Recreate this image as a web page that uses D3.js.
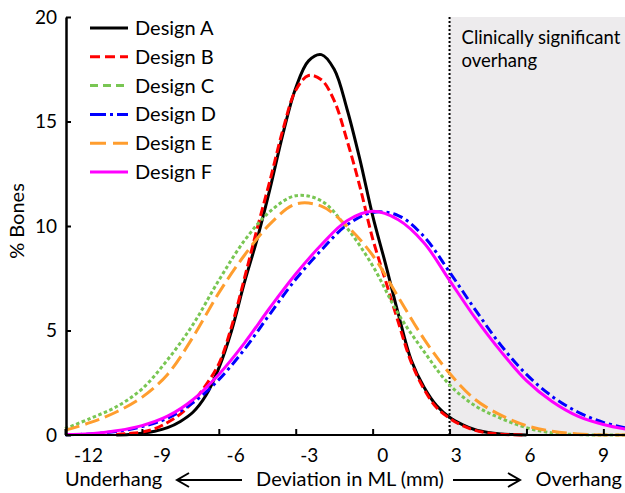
<!DOCTYPE html>
<html>
<head>
<meta charset="utf-8">
<script src="https://cdn.jsdelivr.net/npm/d3@7"></script>
<style>
  html, body { margin: 0; padding: 0; background: #fff; }
  svg { display: block; font-family: Lato, 'Open Sans', sans-serif; }
  .axis path, .axis line { stroke: #000; }
  .axis text { font-size: 19px; fill: #000; font-family: Lato, sans-serif; }
</style>
</head>
<body>
<div id="chart"></div>
<script>
// x values (mm) for the two narrow curves, read every half mm
const xHalf = [-10, -9.5, -9, -8.5, -8, -7.5, -7, -6.5, -6, -5.5, -5, -4.5, -4, -3.5, -3, -2.5,
  -2, -1.5, -1, -0.5, 0, 0.5, 1, 1.5, 2, 2.5, 3, 3.5, 4, 4.5, 5, 5.5, 6];
const designA = [0, 0.02, 0.08, 0.18, 0.35, 0.65, 1.1, 1.9, 3.2, 5.0, 7.3, 9.4, 11.8, 14.4, 16.6, 17.9,
  18.2, 17.5, 15.6, 13.2, 10.5, 8.2, 5.8, 3.6, 2.3, 1.4, 0.85, 0.5, 0.25, 0.12, 0.05, 0.02, 0];
const designB = [0.03, 0.07, 0.14, 0.3, 0.6, 1.0, 1.6, 2.4, 3.4, 5.2, 7.5, 9.9, 12.2, 14.6, 16.5, 17.2,
  17.0, 16.0, 14.1, 11.9, 9.4, 7.4, 5.4, 3.5, 2.2, 1.3, 0.8, 0.45, 0.22, 0.1, 0.04, 0.01, 0];

// x values (mm) for the wide curves, read every mm
const xWhole = [-12, -11, -10, -9, -8, -7, -6, -5, -4, -3, -2, -1, 0, 1, 2, 3, 4, 5, 6, 7, 8, 9, 10];
const designC = [0.3, 0.8, 1.35, 2.2, 3.6, 5.3, 7.4, 9.3, 10.7, 11.45, 11.2, 9.9, 8.1, 5.8, 4.0, 2.4,
  1.4, 0.8, 0.35, 0.1, 0.02, 0, 0];
const designD = [0.01, 0.05, 0.17, 0.4, 0.8, 1.55, 2.65, 4.1, 5.8, 7.45, 8.85, 10.05, 10.65, 10.5, 9.5, 7.8,
  6.0, 4.3, 2.9, 1.85, 1.1, 0.6, 0.3];
const designE = [0.22, 0.6, 1.1, 1.8, 2.9, 4.7, 6.8, 8.6, 10.1, 11.05, 10.95, 10.0, 8.6, 6.6, 4.6, 2.95,
  1.7, 0.95, 0.45, 0.18, 0.05, 0, 0];
const designF = [0.02, 0.06, 0.2, 0.45, 0.9, 1.7, 2.9, 4.4, 6.1, 7.7, 9.1, 10.25, 10.7, 10.3, 9.2, 7.4,
  5.6, 4.0, 2.6, 1.6, 0.9, 0.5, 0.25];

const seriesNames = ['Design A', 'Design B', 'Design C', 'Design D', 'Design E', 'Design F'];
const xTickValues = [-12, -9, -6, -3, 0, 3, 6, 9];
const yTickValues = [0, 5, 10, 15, 20];
const overhangLimit = 3;

const styles = {
  'Design A': { color: '#000000', dash: null, legendDash: null },
  'Design B': { color: '#ff0000', dash: '9,4', legendDash: '10,5' },
  'Design C': { color: '#79c653', dash: '3.5,2.5', legendDash: '8,5' },
  'Design D': { color: '#0000ff', dash: '10,4,3,4', legendDash: '16,4,3,4' },
  'Design E': { color: '#ff9d2e', dash: '15,6', legendDash: '16,7' },
  'Design F': { color: '#ff00ff', dash: null, legendDash: null }
};

const series = [
  { name: 'Design A', xs: xHalf, ys: designA },
  { name: 'Design B', xs: xHalf, ys: designB },
  { name: 'Design C', xs: xWhole, ys: designC },
  { name: 'Design D', xs: xWhole, ys: designD },
  { name: 'Design E', xs: xWhole, ys: designE },
  { name: 'Design F', xs: xWhole, ys: designF }
].map((s) => ({ name: s.name, values: s.xs.map((x, i) => ({ x, y: s.ys[i] })) }));

const width = 625;
const height = 493;

const x = d3.scaleLinear().domain([-12, 10]).range([65, 629]);
// tick labels sit on a slightly tighter spacing than the tick marks
const xLabel = d3.scaleLinear().domain([-12, 9]).range([88, 603]);
const y = d3.scaleLinear().domain([0, 20]).range([435, 17]);

const svg = d3.select('#chart').append('svg')
  .attr('width', width)
  .attr('height', height);

// shaded overhang zone
svg.append('rect')
  .attr('x', x(overhangLimit))
  .attr('y', y(20))
  .attr('width', width - x(overhangLimit))
  .attr('height', y(0) - y(20))
  .attr('fill', '#edebed');

svg.append('line')
  .attr('x1', x(overhangLimit)).attr('x2', x(overhangLimit))
  .attr('y1', y(20)).attr('y2', y(0))
  .attr('stroke', '#000')
  .attr('stroke-width', 2)
  .attr('stroke-dasharray', '2,2');

svg.append('text')
  .attr('y', 44)
  .attr('font-size', 18.5)
  .selectAll('tspan')
  .data(['Clinically significant', 'overhang'])
  .join('tspan')
  .attr('x', x(overhangLimit) + 12)
  .attr('dy', (d, i) => (i ? 23 : 0))
  .text((d) => d);

/* CURVES */
const line = d3.line()
  .x((d) => x(d.x))
  .y((d) => y(Math.max(0, d.y)))
  .curve(d3.curveCatmullRom.alpha(0.5));

svg.append('g')
  .selectAll('path')
  .data(series)
  .join('path')
  .attr('d', (d) => line(d.values))
  .attr('fill', 'none')
  .attr('stroke', (d) => styles[d.name].color)
  .attr('stroke-width', 3)
  .attr('stroke-dasharray', (d) => styles[d.name].dash);

/* AXES */
const xAxis = svg.append('g')
  .attr('class', 'axis')
  .attr('transform', `translate(0,${y(0)})`)
  .call(d3.axisBottom(x)
    .tickValues(xTickValues)
    .tickSizeInner(-6)
    .tickSizeOuter(0)
    .tickPadding(14)
    .tickFormat((d) => (d < 0 ? '-' + Math.abs(d) : d)));
xAxis.select('.domain')
  .attr('stroke-width', 2)
  .attr('d', `M${x(-12)},0H${width}`);
xAxis.selectAll('.tick line').attr('stroke-width', 2);
xAxis.selectAll('.tick text').attr('x', (d) => xLabel(d) - x(d));

const yAxis = svg.append('g')
  .attr('class', 'axis')
  .attr('transform', `translate(${x(-12) + 1},0)`)
  .call(d3.axisLeft(y)
    .tickValues(yTickValues)
    .tickSizeInner(-5)
    .tickSizeOuter(0)
    .tickPadding(9));
yAxis.select('.domain').attr('stroke-width', 2.5);
yAxis.selectAll('.tick line').attr('stroke-width', 2);

svg.append('text')
  .attr('transform', 'translate(24,221) rotate(-90)')
  .attr('text-anchor', 'middle')
  .attr('font-size', 20)
  .text('% Bones');

/* X AXIS TITLE WITH ARROWS */
const titleY = 486;
svg.append('text').attr('x', 65).attr('y', titleY).attr('font-size', 20).text('Underhang');
svg.append('text').attr('x', 350).attr('y', titleY).attr('text-anchor', 'middle')
  .attr('font-size', 20).text('Deviation in ML (mm)');
svg.append('text').attr('x', 622).attr('y', titleY).attr('text-anchor', 'end')
  .attr('font-size', 20).text('Overhang');

const arrows = [
  { from: 242, to: 177 },
  { from: 453, to: 520 }
];
const arrowG = svg.append('g')
  .attr('stroke', '#000')
  .attr('stroke-width', 2)
  .attr('fill', 'none');
arrows.forEach((a) => {
  const dir = Math.sign(a.to - a.from);
  arrowG.append('path')
    .attr('d', `M${a.from},480H${a.to}M${a.to - dir * 12},473L${a.to},480L${a.to - dir * 12},487`);
});

/* LEGEND */
const legend = svg.append('g')
  .attr('transform', 'translate(90,28)')
  .selectAll('g')
  .data(seriesNames)
  .join('g')
  .attr('transform', (d, i) => `translate(0,${i * 28.8})`);

legend.append('line')
  .attr('x1', 0).attr('x2', 38)
  .attr('stroke', (d) => styles[d].color)
  .attr('stroke-width', 3)
  .attr('stroke-dasharray', (d) => styles[d].legendDash);

legend.append('text')
  .attr('x', 45)
  .attr('dy', '0.35em')
  .attr('font-size', 20)
  .text((d) => d);
</script>
</body>
</html>
